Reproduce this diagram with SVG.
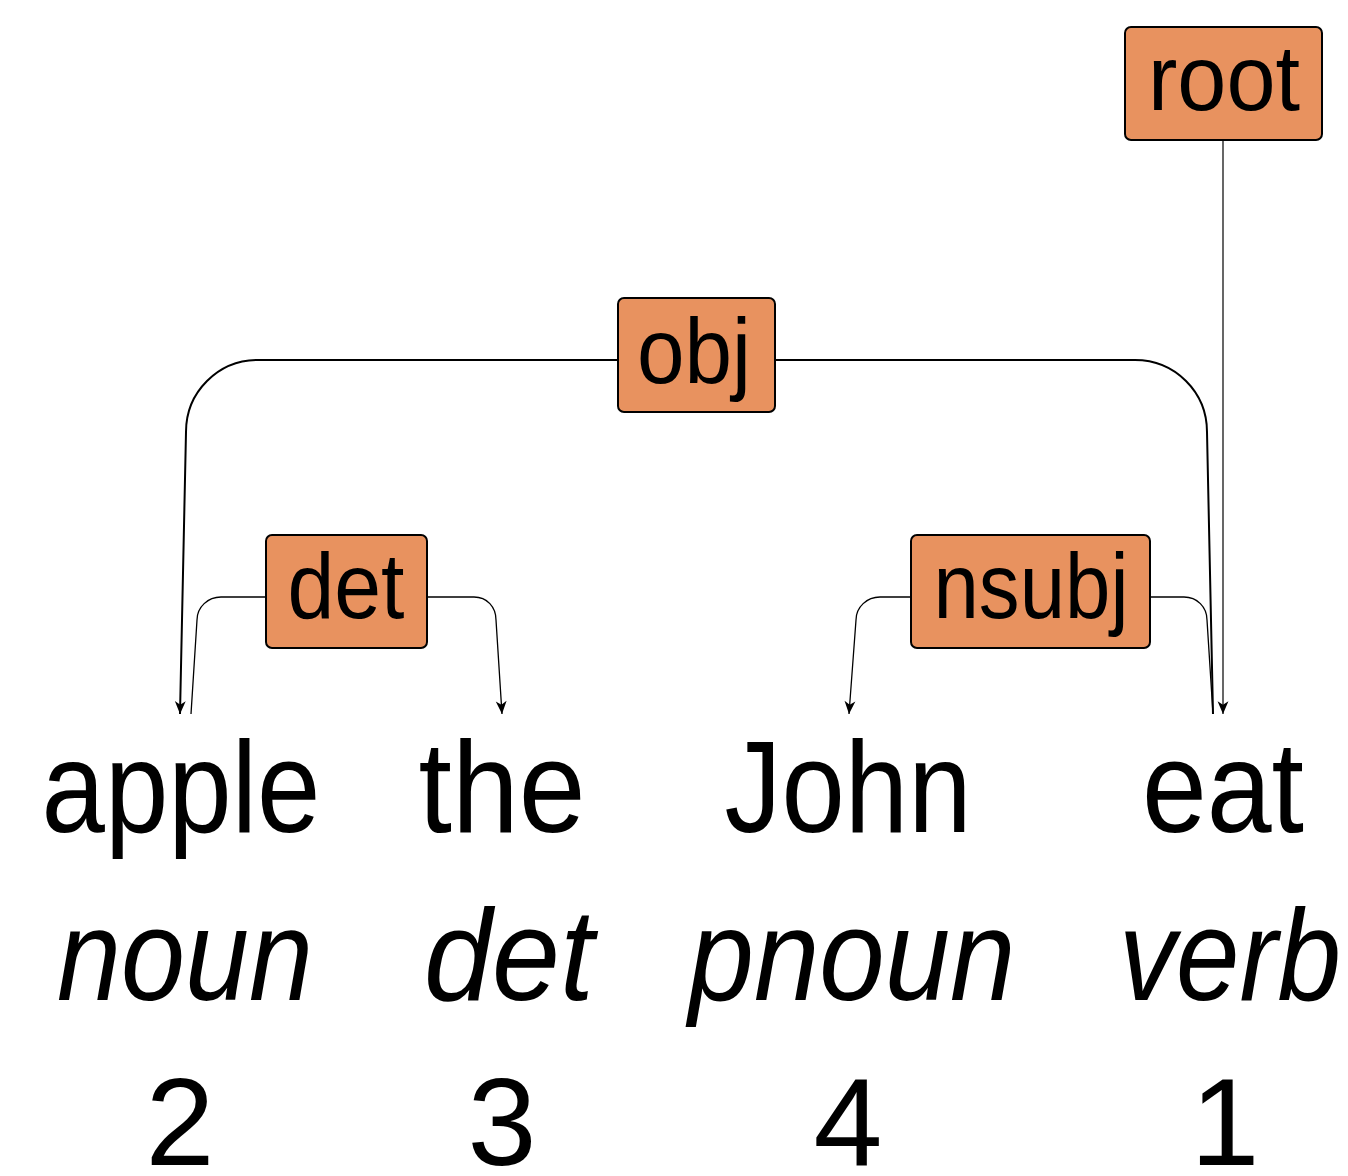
<svg xmlns="http://www.w3.org/2000/svg" width="1348" height="1176" viewBox="0 0 1348 1176">
<style>
.lbl rect{fill:#E8925F;stroke:#000;stroke-width:2}
.lbl text{font-family:"Liberation Sans",Arial,sans-serif;font-size:92px;text-anchor:middle;fill:#000}
.w{font-family:"Liberation Sans",Arial,sans-serif;font-size:130px;text-anchor:middle;fill:#000}
.num{font-size:124px}
.pos{font-style:italic}
.conn path{fill:none;stroke:#000}
</style>
<defs>
<marker id="arr" markerUnits="userSpaceOnUse" markerWidth="20" markerHeight="20" viewBox="-12 -6 14 12" refX="0" refY="0" orient="auto">
<path d="M0,0 L-9,-3.8 L-6.5,0 L-9,3.8 Z" fill="#000"/>
</marker>
</defs>
<g id="connectors" class="conn">
<path d="M1213,714 L1207,432 C1207,392 1175,360 1135,360 L258,360 C218,360 186,392 186,432 L180,714" stroke-width="2" marker-end="url(#arr)"/>
<path d="M191,714 L197,620 C197,607 208,597 221,597 L474,597 C487,597 496,607 496,620 L502,714" stroke-width="1.3" marker-end="url(#arr)"/>
<path d="M1213,714 L1207,620 C1207,607 1197,597 1184,597 L880,597 C867,597 856,607 856,620 L849,714" stroke-width="1.3" marker-end="url(#arr)"/>
<path d="M1223,140 L1223,714" stroke-width="1.2" marker-end="url(#arr)"/>
</g>
<g id="label-root" class="lbl"><rect x="1125" y="27" width="197" height="113" rx="6"/><text x="1224" y="110" textLength="152" lengthAdjust="spacingAndGlyphs">root</text></g>
<g id="label-obj" class="lbl"><rect x="618" y="298" width="157" height="114" rx="6"/><text x="694" y="383" textLength="114" lengthAdjust="spacingAndGlyphs">obj</text></g>
<g id="label-det" class="lbl"><rect x="266" y="535" width="161" height="113" rx="6"/><text x="346" y="618" textLength="117" lengthAdjust="spacingAndGlyphs">det</text></g>
<g id="label-nsubj" class="lbl"><rect x="911" y="535" width="239" height="113" rx="6"/><text x="1031" y="618" textLength="195" lengthAdjust="spacingAndGlyphs">nsubj</text></g>
<g id="word-apple"><text class="w" x="181" y="832" textLength="279" lengthAdjust="spacingAndGlyphs">apple</text><text class="w pos" x="185" y="1000" textLength="256" lengthAdjust="spacingAndGlyphs">noun</text><text class="w num" x="180" y="1165">2</text></g>
<g id="word-the"><text class="w" x="502" y="832" textLength="167" lengthAdjust="spacingAndGlyphs">the</text><text class="w pos" x="509" y="1000" textLength="170" lengthAdjust="spacingAndGlyphs">det</text><text class="w num" x="502" y="1165">3</text></g>
<g id="word-John"><text class="w" x="848" y="832" textLength="247" lengthAdjust="spacingAndGlyphs">John</text><text class="w pos" x="852" y="1000" textLength="327" lengthAdjust="spacingAndGlyphs">pnoun</text><text class="w num" x="848" y="1165">4</text></g>
<g id="word-eat"><text class="w" x="1223" y="832" textLength="162" lengthAdjust="spacingAndGlyphs">eat</text><text class="w pos" x="1230" y="1000" textLength="222" lengthAdjust="spacingAndGlyphs">verb</text><text class="w num" x="1225" y="1165">1</text></g>
</svg>
